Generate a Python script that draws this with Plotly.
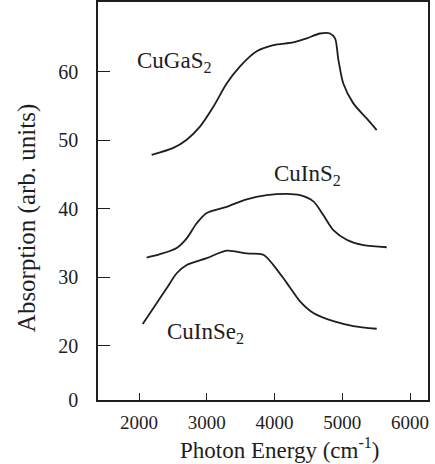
import plotly.graph_objects as go

# CuGaS2
gas_x = [2187, 2507, 2704, 2900, 3097, 3294, 3491, 3737, 3983, 4277, 4475, 4672, 4819, 4893, 4942, 5015, 5163, 5360, 5508]
gas_y = [47.9, 48.9, 50.1, 52.0, 54.9, 58.3, 60.8, 63.0, 63.9, 64.3, 64.9, 65.6, 65.6, 64.9, 61.8, 58.3, 55.4, 53.2, 51.5]
# CuInS2
ins_x = [2113, 2310, 2556, 2704, 2852, 2999, 3294, 3590, 3885, 4180, 4376, 4573, 4720, 4868, 5065, 5311, 5656]
ins_y = [32.9, 33.4, 34.3, 35.7, 37.9, 39.4, 40.3, 41.4, 42.0, 42.2, 42.0, 41.1, 39.1, 36.9, 35.5, 34.7, 34.4]
# CuInSe2
inse_x = [2055, 2211, 2408, 2556, 2704, 2999, 3294, 3590, 3835, 3983, 4180, 4376, 4573, 4868, 5163, 5508]
inse_y = [23.2, 25.5, 28.4, 30.6, 31.8, 32.8, 33.9, 33.5, 33.3, 31.8, 29.2, 26.5, 24.8, 23.6, 22.9, 22.5]

x_ticks = [2000, 3000, 4000, 5000, 6000]
x_ticktext = ["2000", "3000", "4000", "5000", "6000"]
# broken axis: the bottom "0" label sits at the axis floor
y_ticks = [12.1, 20, 30, 40, 50, 60]
y_ticktext = ["0", "20", "30", "40", "50", "60"]

labels = ["CuGaS<sub>2</sub>", "CuInS<sub>2</sub>", "CuInSe<sub>2</sub>"]
label_x = [2517, 4487, 2974]
label_y = [61.5, 45.0, 21.9]

x_title = "Photon Energy (cm<sup>-1</sup>)"
y_title = "Absorption (arb. units)"

FONT = "Liberation Serif, Times New Roman, serif"
INK = "#1e1e1e"

fig = go.Figure()
for xs, ys, name in [(gas_x, gas_y, "CuGaS2"), (ins_x, ins_y, "CuInS2"), (inse_x, inse_y, "CuInSe2")]:
    fig.add_trace(go.Scatter(x=xs, y=ys, mode="lines", name=name,
                             line=dict(color=INK, width=1.8, shape="spline", smoothing=0.8)))

for t, lx, ly in zip(labels, label_x, label_y):
    fig.add_annotation(x=lx, y=ly, text=t, showarrow=False,
                       font=dict(family=FONT, size=23, color=INK))

fig.add_annotation(xref="paper", yref="paper", x=0.552, y=-0.122, text=x_title,
                   showarrow=False, xanchor="center", yanchor="middle",
                   font=dict(family=FONT, size=23, color=INK))
fig.add_annotation(xref="paper", yref="paper", x=-0.215, y=0.457, text=y_title,
                   showarrow=False, xanchor="center", yanchor="middle", textangle=-90,
                   font=dict(family=FONT, size=25, color=INK))

fig.update_layout(
    width=435, height=464,
    margin=dict(l=98, r=7, t=2, b=64, autoexpand=False),
    paper_bgcolor="white", plot_bgcolor="white",
    showlegend=False,
    font=dict(family=FONT, color=INK),
)
fig.update_xaxes(
    range=[1395, 6265], tickvals=x_ticks, ticktext=x_ticktext,
    ticks="inside", ticklen=7, tickwidth=1.2, tickcolor=INK,
    showline=True, linecolor=INK, linewidth=1.5, mirror=True,
    showgrid=False, zeroline=False, automargin=False,
    tickfont=dict(family=FONT, size=19, color=INK), ticklabelstandoff=4,
)
fig.update_yaxes(
    range=[12.1, 70.2], tickvals=y_ticks, ticktext=y_ticktext,
    ticks="inside", ticklen=12, tickwidth=1.2, tickcolor=INK,
    showline=True, linecolor=INK, linewidth=1.5, mirror=True,
    showgrid=False, zeroline=False, automargin=False,
    tickfont=dict(family=FONT, size=20, color=INK), ticklabelstandoff=14,
)

fig.write_html("out.html", config={"displayModeBar": False},
               post_script="document.body.style.margin='0';document.body.style.overflow='hidden';")
